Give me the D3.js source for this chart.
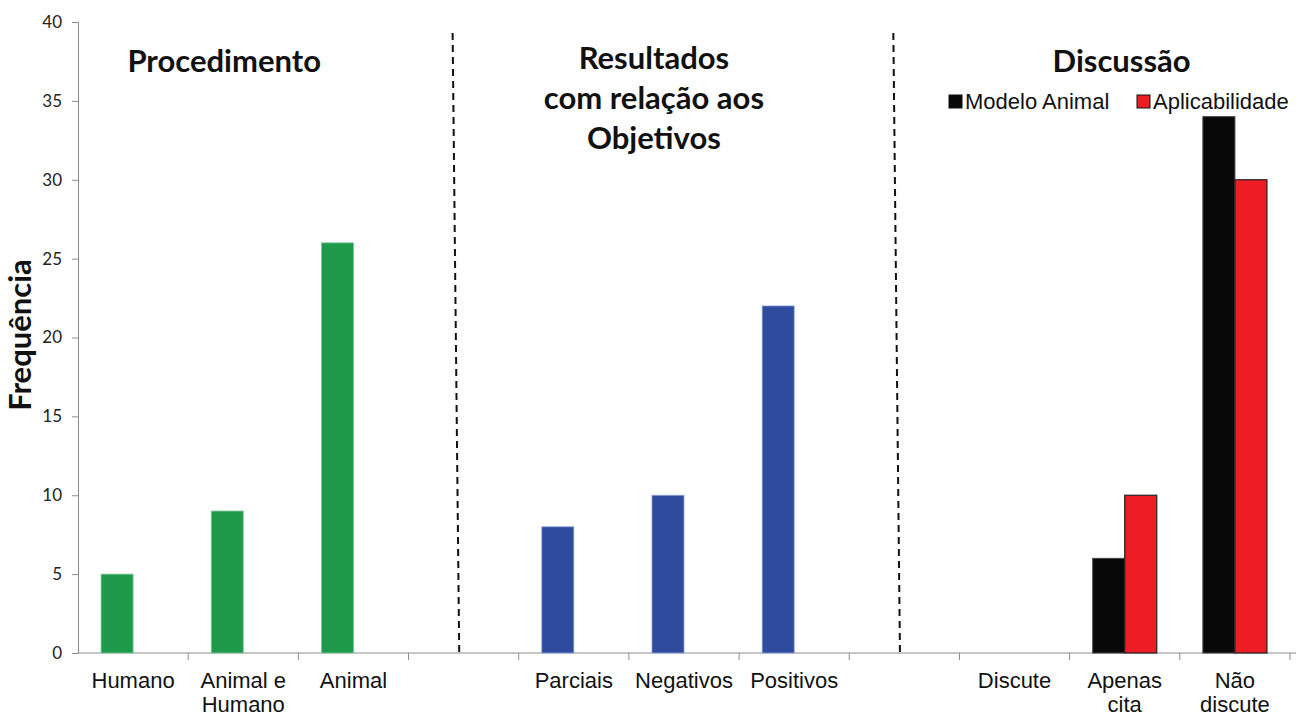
<!DOCTYPE html>
<html>
<head>
<meta charset="utf-8">
<script src="https://cdn.jsdelivr.net/npm/d3@7"></script>
<style>
  body { margin: 0; background: #fff; }
  .axes text { font-family: Lato, "Open Sans", sans-serif; font-size: 17px; fill: #222; }
  .axes path, .axes line { stroke: #8c8c8c; }
  .cat_label { font-family: "Liberation Sans", Arial, sans-serif; font-size: 22px; fill: #111; }
  .section { font-family: Lato, "Open Sans", sans-serif; font-weight: bold; font-size: 31px; fill: #111; }
  .legend_text { font-family: "Liberation Sans", Arial, sans-serif; font-size: 22px; fill: #111; }
</style>
</head>
<body>
<div id="vis"></div>
<script>
// categories along the x axis (blank slots separate the three groups)
var categories = ["Humano", "Animal e Humano", "Animal", "gap1",
                  "Parciais", "Negativos", "Positivos", "gap2",
                  "Discute", "Apenas cita", "Não discute"];
var cat_lines = [["Humano"], ["Animal e", "Humano"], ["Animal"], [],
                 ["Parciais"], ["Negativos"], ["Positivos"], [],
                 ["Discute"], ["Apenas", "cita"], ["Não", "discute"]];

var procedimento = [5, 9, 26];           // green
var procedimento_cats = ["Humano", "Animal e Humano", "Animal"];
var resultados = [8, 10, 22];            // blue
var resultados_cats = ["Parciais", "Negativos", "Positivos"];
var discussao_cats = ["Discute", "Apenas cita", "Não discute"];
var modelo_animal = [0, 6, 34];          // black
var aplicabilidade = [0, 10, 30];        // red

var y_ticks = [0, 5, 10, 15, 20, 25, 30, 35, 40];
var section_titles = [
    ["Procedimento"],
    ["Resultados", "com relação aos", "Objetivos"],
    ["Discussão"]
];

var width = 1296, height = 717;

var svg = d3.select("#vis")
    .append("svg")
    .attr("width", width)
    .attr("height", height);

var x0 = d3.scaleBand()
    .domain(categories)
    .range([78, 1290])
    .padding(0);

var x1 = d3.scaleBand()
    .domain(["a", "b"])
    .range([0, x0.bandwidth()])
    .paddingInner(0)
    .paddingOuter(0.72);

var y = d3.scaleLinear()
    .domain([0, 40])
    .range([653, 22]);

// y axis
var yAxis = d3.axisLeft(y)
    .tickValues(y_ticks)
    .tickSize(6)
    .tickPadding(10);
svg.append("g")
    .attr("class", "axes")
    .attr("transform", "translate(78,0)")
    .call(yAxis);

// x axis: ticks on band boundaries, no labels
var bounds = categories.map(function(c) { return x0(c); }).slice(1);
bounds.push(1290);
var xLine = svg.append("g").attr("class", "axes");
xLine.append("line")
    .attr("x1", 78).attr("x2", width)
    .attr("y1", y(0)).attr("y2", y(0));
xLine.selectAll(".tk")
    .data(bounds)
    .enter()
    .append("line")
    .attr("class", "tk")
    .attr("x1", function(d) { return d; })
    .attr("x2", function(d) { return d; })
    .attr("y1", y(0))
    .attr("y2", y(0) + 7);

// category labels
categories.forEach(function(c, i) {
    var t = svg.append("text")
        .attr("class", "cat_label")
        .attr("text-anchor", "middle")
        .attr("x", x0(c) + x0.bandwidth() / 2)
        .attr("y", 688);
    cat_lines[i].forEach(function(l, j) {
        t.append("tspan")
            .attr("x", x0(c) + x0.bandwidth() / 2)
            .attr("dy", j === 0 ? 0 : 24)
            .text(l);
    });
});

// dashed separators
["gap1", "gap2"].forEach(function(g) {
    svg.append("line")
        .attr("x1", x0(g) + x0.bandwidth() * 0.4)
        .attr("x2", x0(g) + x0.bandwidth() * 0.46)
        .attr("y1", y(39.3))
        .attr("y2", y(0))
        .attr("stroke", "#111")
        .attr("stroke-width", 2)
        .attr("stroke-dasharray", "7,5");
});

// green bars
svg.selectAll(".green")
    .data(procedimento)
    .enter()
    .append("rect")
    .attr("class", "green")
    .attr("x", function(d, i) { return x0(procedimento_cats[i]) + x1("a"); })
    .attr("y", function(d) { return y(d); })
    .attr("width", x1.bandwidth())
    .attr("height", function(d) { return y(0) - y(d); })
    .attr("fill", "#1e9a4a")
    .attr("stroke", "#7fc99a")
    .attr("stroke-width", 0.8);

// blue bars
svg.selectAll(".blue")
    .data(resultados)
    .enter()
    .append("rect")
    .attr("class", "blue")
    .attr("x", function(d, i) { return x0(resultados_cats[i]) + x1("a"); })
    .attr("y", function(d) { return y(d); })
    .attr("width", x1.bandwidth())
    .attr("height", function(d) { return y(0) - y(d); })
    .attr("fill", "#2e4b9d")
    .attr("stroke", "#8fa3de")
    .attr("stroke-width", 0.8);

// black bars
svg.selectAll(".black")
    .data(modelo_animal)
    .enter()
    .append("rect")
    .attr("class", "black")
    .attr("x", function(d, i) { return x0(discussao_cats[i]) + x1("a"); })
    .attr("y", function(d) { return y(d); })
    .attr("width", x1.bandwidth())
    .attr("height", function(d) { return y(0) - y(d); })
    .attr("fill", "#080808")
    .attr("stroke", d => d > 0 ? "#444" : "none")
    .attr("stroke-width", 1);

// red bars
svg.selectAll(".red")
    .data(aplicabilidade)
    .enter()
    .append("rect")
    .attr("class", "red")
    .attr("x", function(d, i) { return x0(discussao_cats[i]) + x1("b"); })
    .attr("y", function(d) { return y(d); })
    .attr("width", x1.bandwidth())
    .attr("height", function(d) { return y(0) - y(d); })
    .attr("fill", "#ee1c25")
    .attr("stroke", d => d > 0 ? "#222" : "none")
    .attr("stroke-width", 1.2);

// section titles
function title(lines, cx, by) {
    var t = svg.append("text")
        .attr("class", "section")
        .attr("text-anchor", "middle")
        .attr("y", by);
    lines.forEach(function(l, j) {
        t.append("tspan").attr("x", cx).attr("dy", j === 0 ? 0 : 40).text(l);
    });
}
title(section_titles[0], x0("Animal e Humano") + 36, 72);
title(section_titles[1], x0("Negativos") + 25, 69);
title(section_titles[2], x0("Apenas cita") + 52, 72);

// y label
svg.append("text")
    .attr("class", "section")
    .attr("font-size", "26px")
    .attr("text-anchor", "middle")
    .attr("transform", "translate(31,335) rotate(-90)")
    .text("Frequência");

// legend
var legend_items = [["Modelo Animal", "#080808"], ["Aplicabilidade", "#ee1c25"]];
var lx = [949, 1137];
legend_items.forEach(function(it, i) {
    svg.append("rect")
        .attr("x", lx[i])
        .attr("y", 95)
        .attr("width", 13)
        .attr("height", 13)
        .attr("fill", it[1])
        .attr("stroke", "#111")
        .attr("stroke-width", 1);
    svg.append("text")
        .attr("class", "legend_text")
        .attr("x", lx[i] + 16)
        .attr("y", 109)
        .text(it[0]);
});
</script>
</body>
</html>
